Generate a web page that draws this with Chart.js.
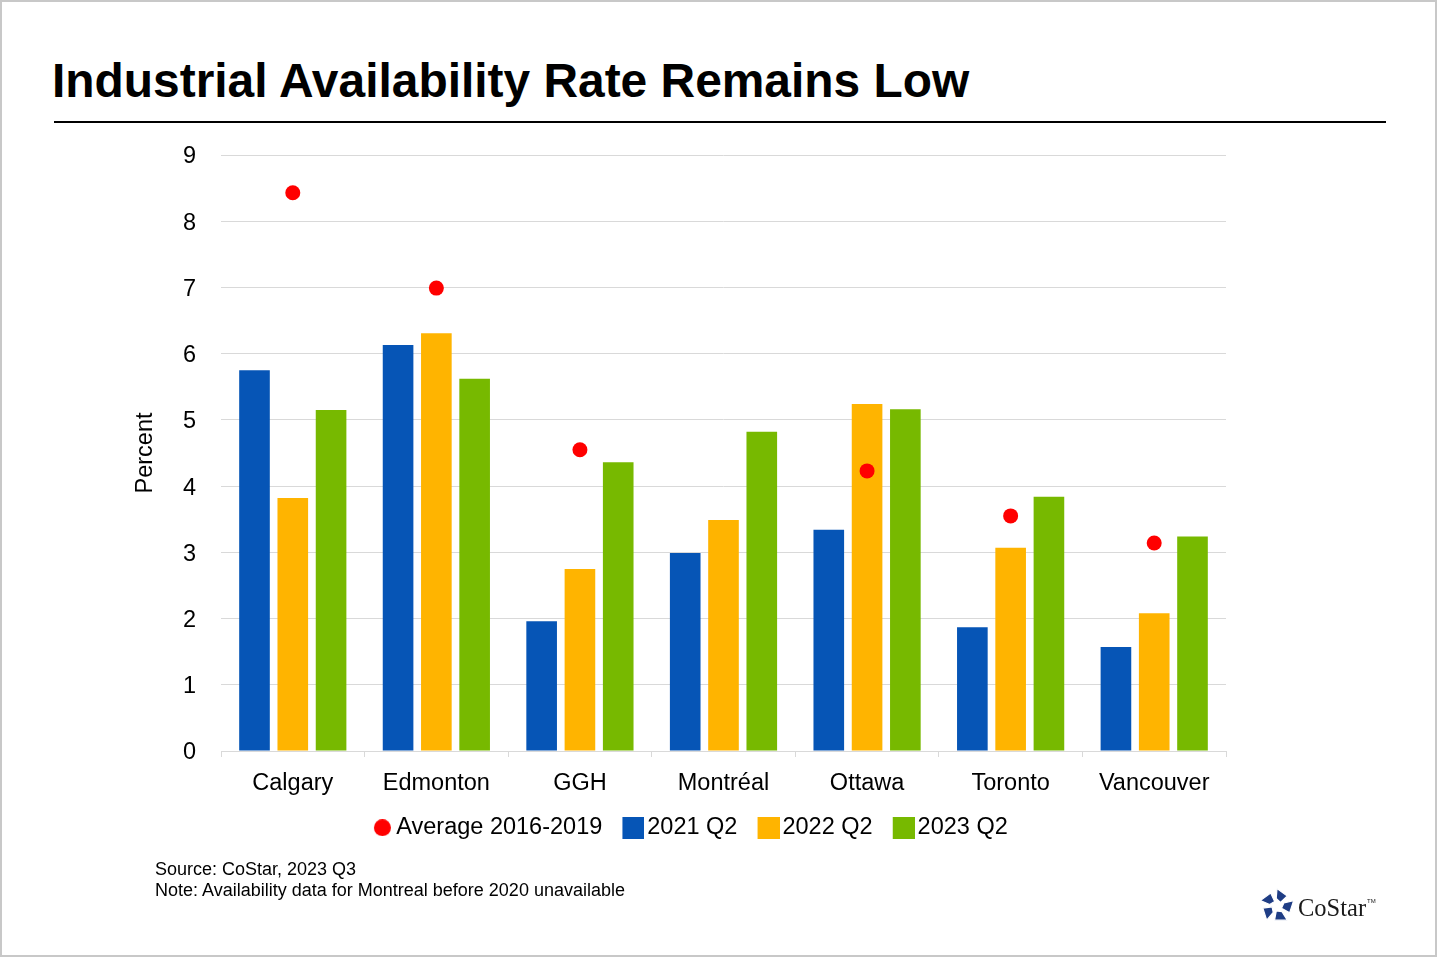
<!DOCTYPE html>
<html>
<head>
<meta charset="utf-8">
<script src="https://cdn.jsdelivr.net/npm/chart.js@4"></script>
<style>
  html, body { margin: 0; padding: 0; background: #fff; }
  body { width: 1440px; height: 960px; position: relative; overflow: hidden; font-family: "Liberation Sans", Arial, sans-serif; }
  .frame { position: absolute; left: 0; top: 0; width: 1437px; height: 957px; box-sizing: border-box; border: 2px solid #c8c8c8; }
  .title { position: absolute; left: 52px; top: 56.5px; margin: 0; font-size: 47.9px; line-height: 1; font-weight: bold; color: #000; white-space: nowrap; }
  .rule { position: absolute; left: 54px; top: 121px; width: 1332px; height: 2px; background: #000; }
  .notes { position: absolute; left: 155px; top: 859px; font-size: 18px; line-height: 21px; color: #000; white-space: nowrap; }
  #wrap { position: absolute; left: 0; top: 0; width: 1440px; height: 960px; }
  .logo { position: absolute; left: 1258px; top: 888px; width: 124px; height: 38px; }
  .logo svg { position: absolute; left: 0; top: 0; }
  .logo .word { position: absolute; left: 40px; top: 7.5px; font-family: "Liberation Serif", "Times New Roman", serif; font-size: 24.5px; line-height: 1; color: #1a1a1a; white-space: nowrap; }
  .logo .tm { font-size: 6px; vertical-align: 13px; margin-left: 1px; font-family: "Liberation Sans", Arial, sans-serif; }
</style>
</head>
<body>
<div class="frame"></div>
<h1 class="title">Industrial Availability Rate Remains Low</h1>
<div class="rule"></div>
<div id="wrap"><canvas id="chart" width="1440" height="960"></canvas></div>
<div class="notes">Source: CoStar, 2023 Q3<br>Note: Availability data for Montreal before 2020 unavailable</div>
<div class="logo">
  <svg width="38" height="38" viewBox="-19 -18 38 38" id="logoIcon"></svg>
  <span class="word">CoStar<span class="tm">TM</span></span>
</div>
<script>
// ---- Data ----
const categories = ['Calgary', 'Edmonton', 'GGH', 'Montréal', 'Ottawa', 'Toronto', 'Vancouver'];
const avg2016_2019 = [8.43, 6.99, 4.55, null, 4.23, 3.55, 3.14];
const q2021 = [5.75, 6.13, 1.96, 2.99, 3.34, 1.87, 1.57];
const q2022 = [3.82, 6.31, 2.75, 3.49, 5.24, 3.07, 2.08];
const q2023 = [5.15, 5.62, 4.36, 4.82, 5.16, 3.84, 3.24];
const seriesNames = ['Average 2016-2019', '2021 Q2', '2022 Q2', '2023 Q2'];
const yTicks = [0, 1, 2, 3, 4, 5, 6, 7, 8, 9];

const colors = { avg: '#ff0000', b: '#0655b6', o: '#ffb400', g: '#77b900' };
const FONT = '"Liberation Sans", Arial, sans-serif';

// ---- Logo icon (decorative) ----
(function () {
  const svg = document.getElementById('logoIcon');
  let html = '';
  const pt = (r, a) => [r * Math.cos(a * Math.PI / 180), r * Math.sin(a * Math.PI / 180)];
  for (let k = 0; k < 5; k++) {
    const a = -90 + 72 * k;
    const v1 = pt(17.5, a);
    const v2 = pt(17.5, a + 72);
    const m = [v1[0] + (v2[0] - v1[0]) * 0.62, v1[1] + (v2[1] - v1[1]) * 0.62];
    const i1 = pt(5, a + 44);
    const i2 = pt(7.5, a - 6);
    html += '<polygon points="' + [v1, m, i1, i2].map(p => p[0].toFixed(2) + ',' + p[1].toFixed(2)).join(' ') + '" fill="#1f3d85" stroke="#fff" stroke-width="1.2" stroke-linejoin="miter"/>';
  }
  svg.innerHTML = html;
})();

// ---- Legend marker images (marker drawn shifted right inside a transparent canvas) ----
function markerCanvas(kind, color) {
  const s = kind === 'circle' ? 17 : 22;
  const shift = 6;
  const c = document.createElement('canvas');
  c.width = s + 2 * shift; c.height = s;
  const x = c.getContext('2d');
  x.fillStyle = color;
  if (kind === 'circle') { x.beginPath(); x.arc(2 * shift + s / 2, s / 2, s / 2, 0, Math.PI * 2); x.fill(); }
  else { x.fillRect(2 * shift, 0, s, s); }
  return c;
}
const legendMarkers = [
  markerCanvas('circle', colors.avg),
  markerCanvas('rect', colors.b),
  markerCanvas('rect', colors.o),
  markerCanvas('rect', colors.g)
];

const ctx = document.getElementById('chart').getContext('2d');
new Chart(ctx, {
  type: 'bar',
  data: {
    labels: categories,
    datasets: [
      { type: 'line', label: seriesNames[0], data: avg2016_2019, showLine: false,
        pointRadius: 7.5, pointHoverRadius: 7.5, pointBackgroundColor: colors.avg, pointBorderWidth: 0,
        borderColor: colors.avg, backgroundColor: colors.avg, pointStyle: 'circle' },
      { label: seriesNames[1], data: q2021, backgroundColor: colors.b, borderWidth: 0 },
      { label: seriesNames[2], data: q2022, backgroundColor: colors.o, borderWidth: 0 },
      { label: seriesNames[3], data: q2023, backgroundColor: colors.g, borderWidth: 0 }
    ]
  },
  options: {
    responsive: false,
    animation: false,
    devicePixelRatio: 1,
    categoryPercentage: 0.8,
    barPercentage: 0.8,
    layout: { padding: { left: 150, right: 214, top: 155, bottom: 110.5 } },
    plugins: {
      title: { display: false },
      tooltip: { enabled: false },
      legend: {
        display: true,
        position: 'bottom',
        labels: {
          usePointStyle: true,
          boxWidth: 16.25,
          padding: 17,
          color: '#000',
          font: { family: FONT, size: 23.5 },
          generateLabels(chart) {
            const items = Chart.defaults.plugins.legend.labels.generateLabels(chart);
            items.forEach((it, i) => { it.pointStyle = legendMarkers[i]; });
            return items;
          }
        }
      }
    },
    scales: {
      x: {
        offset: true,
        grid: { display: true, drawOnChartArea: false, drawTicks: true, tickLength: 6, color: '#d9d9d9' },
        border: { display: true, color: '#d9d9d9', width: 1 },
        ticks: { color: '#000', font: { family: FONT, size: 23.5 }, padding: 12, maxRotation: 0, autoSkip: false },
        afterFit(scale) { scale.height = 48; }
      },
      y: {
        min: 0,
        max: 9,
        afterBuildTicks(scale) { scale.ticks = yTicks.map(v => ({ value: v })); },
        grid: { color: '#d9d9d9', drawTicks: false, lineWidth: 1 },
        border: { display: false },
        ticks: { color: '#000', font: { family: FONT, size: 23.5 }, padding: 25, labelOffset: 2 },
        title: { display: true, text: 'Percent', color: '#000', font: { family: FONT, size: 23.5 }, padding: { top: -19, bottom: 0 } },
        afterFit(scale) { scale.width = 71; }
      }
    }
  }
});
</script>
</body>
</html>
